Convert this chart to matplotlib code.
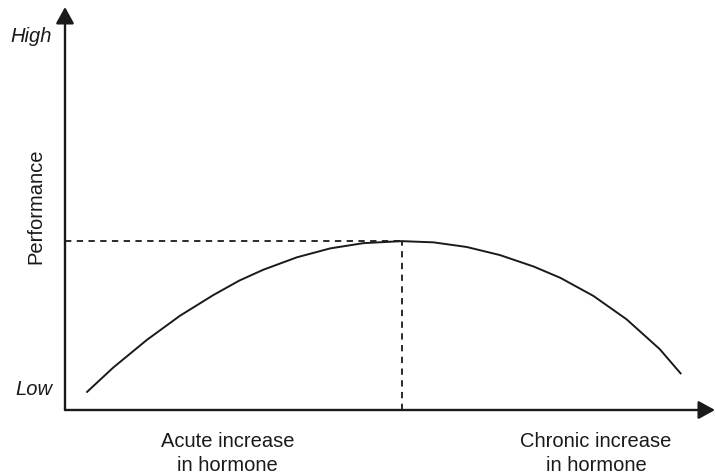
import matplotlib
matplotlib.use("Agg")
import matplotlib.pyplot as plt
import numpy as np

# performance curve (axis units 0-100)
hormone = [3.4, 7.4, 12.6, 17.7, 22.8, 26.8, 30.5, 35.7, 40.8, 45.9, 51.8,
           56.7, 61.8, 66.9, 72.1, 76.2, 81.3, 86.4, 91.5, 94.7]
performance = [4.5, 10.5, 17.4, 23.4, 28.5, 32.1, 34.8, 37.9, 40.1, 41.4, 41.9,
               41.6, 40.45, 38.45, 35.6, 32.8, 28.3, 22.5, 15.1, 9.1]

x_labels = ['Acute increase\nin hormone', 'Chronic increase\nin hormone']
x_label_pos = [25, 81.7]
y_labels = ['Low', 'High']
y_label_pos = [5.0, 92.8]
y_title = 'Performance'

plt.rcParams['font.family'] = ['Liberation Sans', 'DejaVu Sans']
ink = '#1a1a1a'

fig = plt.figure(figsize=(7.16, 4.76), dpi=100)
ax = fig.add_axes([65 / 716, 66 / 476, 650 / 716, 403 / 476])
ax.set_xlim(0, 100)
ax.set_ylim(0, 100)
ax.axis('off')

# axes with arrow heads
arrow = dict(arrowstyle='-|>,head_length=1.0,head_width=0.55', lw=1.7,
             color=ink, shrinkA=0, shrinkB=0, mutation_scale=10)
ax.annotate('', xy=(1, 0), xytext=(0, 0), xycoords='axes fraction', arrowprops=arrow)
ax.annotate('', xy=(0, 1), xytext=(0, 0), xycoords='axes fraction', arrowprops=arrow)

ax.plot(hormone, performance, color=ink, lw=1.4, solid_joinstyle='round', clip_on=False)

# dashed guides to the peak
i = int(np.argmax(performance))
px, py = hormone[i], performance[i]
ax.plot([0, px], [py, py], color=ink, lw=1.3, dashes=(3.5, 3))
ax.plot([px, px], [0, py], color=ink, lw=1.3, dashes=(3.5, 3))

for lab, pos in zip(y_labels, y_label_pos):
    ax.text(-2.0, pos, lab, ha='right', va='center',
            fontsize=14.5, style='italic', color=ink, clip_on=False)

for lab, pos in zip(x_labels, x_label_pos):
    ax.text(pos, -5.5, lab, ha='center', va='top', fontsize=14.5, color=ink,
            linespacing=1.35, clip_on=False)

ax.text(-4.5, 50.5, y_title, rotation=90, ha='center', va='center',
        fontsize=14.5, color=ink, clip_on=False)

fig.savefig('out.png', dpi=100)
